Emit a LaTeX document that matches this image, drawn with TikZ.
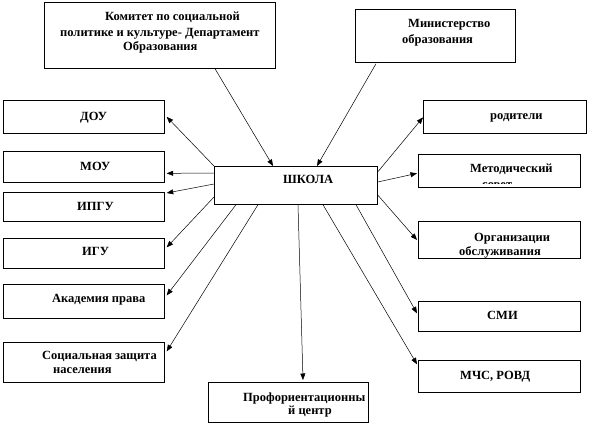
\documentclass[tikz,border=0pt]{standalone}
\usepackage{fontspec}
\setmainfont{Liberation Serif}[BoldFont={Liberation Serif Bold}]
\usetikzlibrary{arrows.meta,calc}
\begin{document}
\begin{tikzpicture}[x=1pt,y=-1pt,
  box/.style={draw, line width=0.7pt, inner sep=0pt, anchor=north west},
  txt/.style={font=\bfseries\fontsize{12.5}{14}\selectfont, inner sep=0pt, anchor=base west},
  arr/.style={-{Triangle[length=6.5pt,width=5pt]}, line width=0.5pt}]
\useasboundingbox (0,0) rectangle (589,426);
% boxes
\node[box, minimum width=231pt, minimum height=66pt] (kom) at (44,2) {};
\node[box, minimum width=160pt, minimum height=53pt] (min) at (355,9) {};
\node[box, minimum width=161pt, minimum height=33pt] (dou) at (3,100) {};
\node[box, minimum width=161pt, minimum height=31pt] (mou) at (3,151) {};
\node[box, minimum width=161pt, minimum height=29pt] (ipgu) at (3,192) {};
\node[box, minimum width=161pt, minimum height=30pt] (igu) at (3,238) {};
\node[box, minimum width=161pt, minimum height=34pt] (akad) at (3,284) {};
\node[box, minimum width=161pt, minimum height=40pt] (soc) at (3,342) {};
\node[box, minimum width=163pt, minimum height=38pt] (shk) at (214,166) {};
\node[box, minimum width=163pt, minimum height=33pt] (rod) at (423,100) {};
\node[box, minimum width=162pt, minimum height=33pt] (met) at (418,154) {};
\node[box, minimum width=162pt, minimum height=37pt] (org) at (418,221) {};
\node[box, minimum width=162pt, minimum height=30pt] (smi) at (418,301) {};
\node[box, minimum width=162pt, minimum height=32pt] (mchs) at (418,360) {};
\node[box, minimum width=160pt, minimum height=40pt] (prof) at (208,382) {};
% texts
\node[txt] (t1a) at (105,20) {Комитет по социальной};
\node[txt] (t1b) at (60,36) {политике и культуре- Департамент};
\node[txt] (t1c) at (123,50) {Образования};
\node[txt] (t2a) at (408,27) {Министерство};
\node[txt] (t2b) at (402,43) {образования};
\node[txt] (t3) at (80,120) {ДОУ};
\node[txt] (t4) at (80,170) {МОУ};
\node[txt] (t5) at (77,210) {ИПГУ};
\node[txt] (t6) at (82,255) {ИГУ};
\node[txt] (t7) at (52,302) {Академия права};
\node[txt] (t8a) at (42,359) {Социальная защита};
\node[txt] (t8b) at (53,373) {населения};
\node[txt] (t9) at (283,183) {ШКОЛА};
\node[txt] (t10) at (490,119) {родители};
\node[txt] (t11a) at (470,172) {Методический};
\begin{scope}
\clip (418,154) rectangle (580,183.5);
\node[txt] (t11b) at (482,188) {совет};
\end{scope}
\node[txt] (t12a) at (474,241) {Организации};
\node[txt] (t12b) at (459,255) {обслуживания};
\node[txt] (t13) at (487,319) {СМИ};
\node[txt] (t14) at (460,379) {МЧС, РОВД};
\node[txt] (t15a) at (243,401) {Профориентационны};
\node[txt] (t15b) at (288,414) {й центр};
% connectors
\draw[arr] ($(kom.south west)+(171,0)$) -- ($(shk.north west)+(59,0)$);
\draw[arr] ($(min.south west)+(21,1)$) -- ($(shk.north west)+(103,0)$);
\draw[arr] (shk.north west) -- ($(dou.east)+(2,0)$);
\draw[arr] ($(shk.north west)+(0,7)$) -- ($(mou.east)+(2,6.5)$);
\draw[arr] ($(shk.north west)+(0,18)$) -- ($(ipgu.north east)+(2,1)$);
\draw[arr] ($(shk.north west)+(0,31)$) -- ($(igu.east)+(2,-6)$);
\draw[arr] ($(shk.south west)+(22,0)$) -- ($(akad.east)+(2,-6)$);
\draw[arr] ($(shk.south west)+(44,0)$) -- ($(soc.east)+(2,-11)$);
\draw[arr] ($(shk.south west)+(84,0)$) -- ($(prof.north west)+(95,-2)$);
\draw[arr] ($(shk.south west)+(109,0)$) -- ($(mchs.west)+(-1,-12)$);
\draw[arr] ($(shk.south west)+(142,0)$) -- ($(smi.west)+(-1,-3)$);
\draw[arr] ($(shk.north east)+(0,29)$) -- ($(org.north west)+(-1,19)$);
\draw[arr] ($(shk.north east)+(0,16)$) -- ($(met.west)+(-1,2.5)$);
\draw[arr] ($(shk.north east)+(0,6)$) -- ($(rod.west)+(0,0.5)$);
\end{tikzpicture}
\end{document}
